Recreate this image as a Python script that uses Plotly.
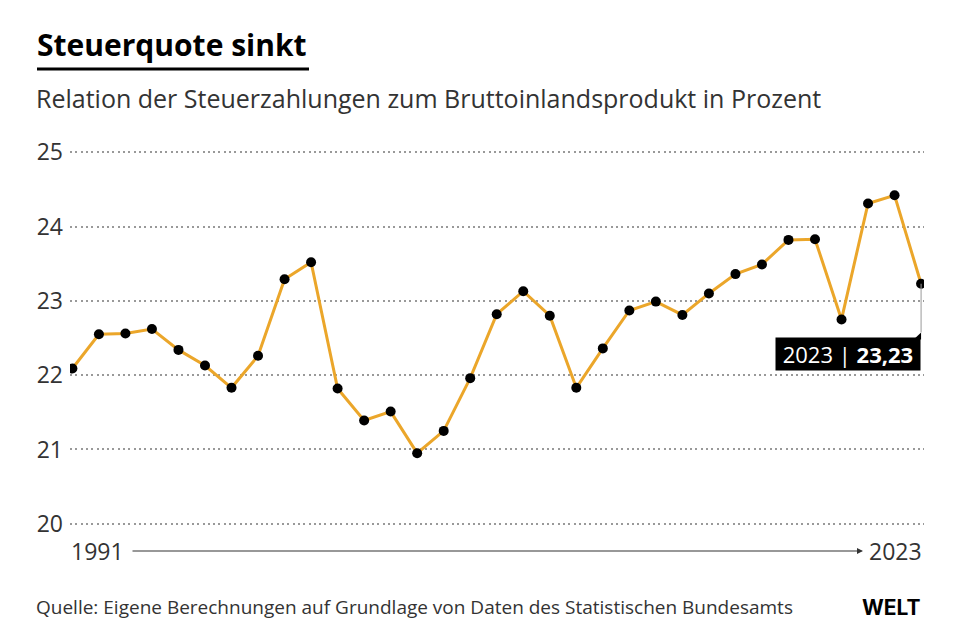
import plotly.graph_objects as go

years = list(range(1991, 2024))
quote = [22.09, 22.55, 22.56, 22.62, 22.34, 22.13, 21.83, 22.26, 23.29, 23.52,
         21.82, 21.39, 21.51, 20.95, 21.25, 21.96, 22.82, 23.13, 22.80, 21.83,
         22.36, 22.87, 22.99, 22.81, 23.10, 23.36, 23.49, 23.82, 23.83, 22.75,
         24.31, 24.42, 23.23]
y_ticks = [20, 21, 22, 23, 24, 25]

title = "Steuerquote sinkt"
subtitle = "Relation der Steuerzahlungen zum Bruttoinlandsprodukt in Prozent"
source = "Quelle: Eigene Berechnungen auf Grundlage von Daten des Statistischen Bundesamts"

LINE = "#EBA62A"
FONT = "Open Sans"
TXT = "#333333"

# page body offset (browser default margin)
OFF = 8
W, H = 960 - OFF, 640 - OFF

# plot area in (screen) pixels
L, R, T, B = 70, 36, 150, 114

def sx(x):
    return x - OFF

def sy(y):
    return y - OFF

PW = W - sx(L) - R
PH = H - sy(T) - B

def px(x):
    return (sx(x) - sx(L)) / PW

def py(y):
    return 1 - (sy(y) - sy(T)) / PH

last_x, last_y = years[-1], quote[-1]
NB = "\u00a0"
label = f"{NB}{last_x} | <b>{str(last_y).replace('.', ',')}</b>{NB}"

fig = go.Figure()
fig.add_trace(go.Scatter(
    x=years, y=quote, mode="lines+markers",
    line=dict(color=LINE, width=3),
    marker=dict(color="black", size=10),
    hoverinfo="skip", showlegend=False,
))

annotations = [
    dict(x=last_x, y=22.28, xref="x", yref="y", xanchor="right", yanchor="middle",
         text=label, showarrow=False, bgcolor="black", borderpad=1,
         font=dict(family=FONT, size=22, color="white")),
    dict(x=px(69), y=py(551), xref="paper", yref="paper", xanchor="left", yanchor="middle",
         text=str(years[0]), showarrow=False, font=dict(family=FONT, size=23, color=TXT)),
    dict(x=px(924), y=py(551), xref="paper", yref="paper", xanchor="right", yanchor="middle",
         text=str(years[-1]), showarrow=False, font=dict(family=FONT, size=23, color=TXT)),
    dict(x=px(863), y=py(551), xref="paper", yref="paper", axref="pixel", ayref="pixel",
         ax=-(863 - 131), ay=0, text="", showarrow=True, arrowhead=2, arrowsize=1,
         arrowwidth=1.2, arrowcolor="#333333"),
    dict(x=px(35), y=py(45), xref="paper", yref="paper", xanchor="left", yanchor="middle",
         text=f"<b>{title}</b>", showarrow=False, font=dict(family=FONT, size=30, color="black")),
    dict(x=px(34), y=py(98), xref="paper", yref="paper", xanchor="left", yanchor="middle",
         text=subtitle, showarrow=False, font=dict(family=FONT, size=25, color=TXT)),
    dict(x=px(34), y=py(607), xref="paper", yref="paper", xanchor="left", yanchor="middle",
         text=source, showarrow=False, font=dict(family=FONT, size=19, color=TXT)),
    dict(x=px(923), y=py(607), xref="paper", yref="paper", xanchor="right", yanchor="middle",
         text="<b>WELT</b>", showarrow=False, font=dict(family="Inter", size=21, color="black")),
]

shapes = [
    dict(type="line", xref="x", yref="y", x0=last_x, x1=last_x, y0=last_y, y1=22.575,
         line=dict(color="#999999", width=1)),
    dict(type="path", xref="x", yref="y",
         path=f"M {last_x - 0.28},22.48 L {last_x},22.575 L {last_x},22.48 Z",
         fillcolor="black", line=dict(width=0)),
    dict(type="line", xref="paper", yref="paper", x0=px(37), x1=px(309), y0=py(69), y1=py(69),
         line=dict(color="black", width=3)),
]

fig.update_layout(
    width=W, height=H,
    margin=dict(l=sx(L), r=R, t=sy(T), b=B),
    paper_bgcolor="white", plot_bgcolor="white",
    xaxis=dict(range=[1990.91, 2023.11], showgrid=False, showticklabels=False,
               zeroline=False, showline=False, fixedrange=True),
    yaxis=dict(range=[19.97, 25.03], tickvals=y_ticks, showgrid=True,
               gridcolor="#999999", griddash="2px,3.3px", gridwidth=1.8,
               zeroline=False, showline=False, ticks="",
               tickfont=dict(family=FONT, size=23, color=TXT),
               ticklabelstandoff=6),
    font=dict(family=FONT, color=TXT),
    annotations=annotations,
    shapes=shapes,
)

fig.write_html("out.html")
